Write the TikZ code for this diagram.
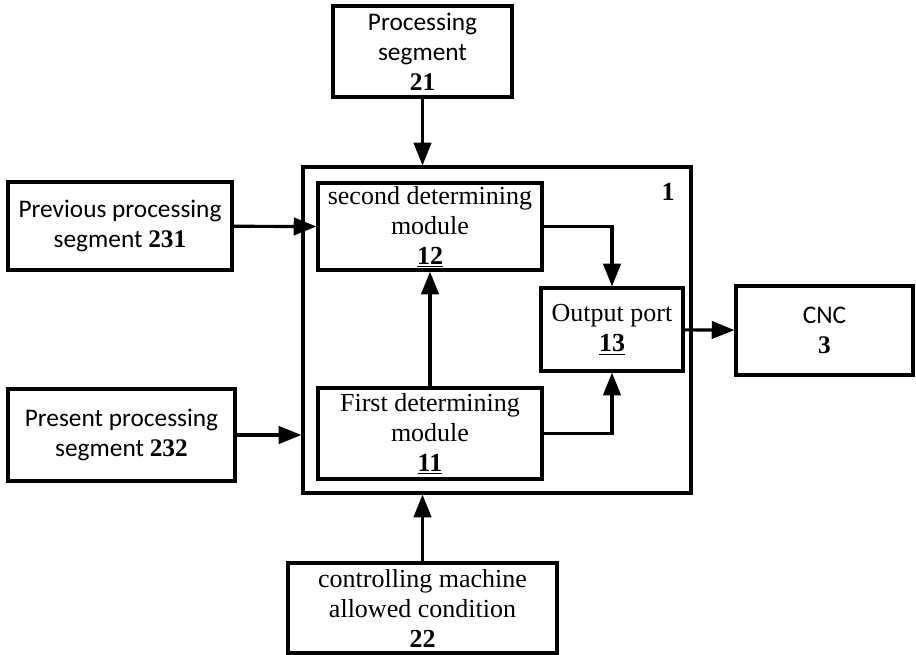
\documentclass[tikz,border=0pt]{standalone}
\usepackage{fontspec}
\setmainfont{Liberation Serif}
\newfontfamily\sansfam{Carlito}
\usetikzlibrary{arrows.meta}
\tikzstyle{box}=[rectangle,draw,line width=2.4pt,align=center,inner sep=0pt,font=\fontsize{19.5}{22.5}\selectfont]
\tikzstyle{sbox}=[box,font=\fontsize{19}{22.5}\selectfont\sansfam]
\tikzstyle{link}=[-{Triangle[length=17pt,width=13pt]},line width=2.4pt]
\newcommand{\nr}[1]{{\rmfamily\bfseries #1}}

\begin{document}
\begin{tikzpicture}[x=0.75pt,y=-0.75pt]
  \useasboundingbox (0,0) rectangle (916,654);

  % unit 1 and its modules
  \node[box,minimum width=291pt,minimum height=244.5pt] (M) at (497,330) {};
  \node[font=\fontsize{19.5}{22.5}\selectfont\bfseries] (L1) at (668,192) {1};
  \node[box,minimum width=168pt,minimum height=65.25pt] (S12) at (430,226.5) {second determining\\module\\\underline{\textbf{12}}};
  \node[box,minimum width=168pt,minimum height=68.25pt] (F11) at (430,433.5) {First determining\\module\\\underline{\textbf{11}}};
  \node[box,minimum width=106.5pt,minimum height=62.25pt] (O13) at (612,329.5) {Output port\\\underline{\textbf{13}}};

  % outside blocks
  \node[sbox,minimum width=134.25pt,minimum height=68.25pt] (P21) at (422.5,51.5) {Processing\\segment\\\nr{21}};
  \node[sbox,minimum width=168pt,minimum height=66pt] (Prev) at (120,226) {Previous processing\\segment \nr{231}};
  \node[sbox,minimum width=170.25pt,minimum height=69pt] (Pres) at (121.5,435) {Present processing\\segment \nr{232}};
  \node[sbox,minimum width=132.75pt,minimum height=66.75pt] (CNC) at (824.5,330.5) {CNC\\\nr{3}};
  \node[box,minimum width=201.75pt,minimum height=67.5pt] (C22) at (422.5,608) {controlling machine\\allowed condition\\\textbf{22}};

  \draw[link] (P21)--(P21 |- M.north);
  \draw[link] (Prev)--(S12.west);
  \draw[link] (Pres)--(Pres -| M.west);
  \draw[link] (F11)--(S12);
  \draw[link] (S12.east) -| (O13.north);
  \draw[link] (F11.east) -| (O13.south);
  \draw[link] (O13)--(CNC);
  \draw[link] (C22)--(C22 |- M.south);

\end{tikzpicture}
\end{document}
